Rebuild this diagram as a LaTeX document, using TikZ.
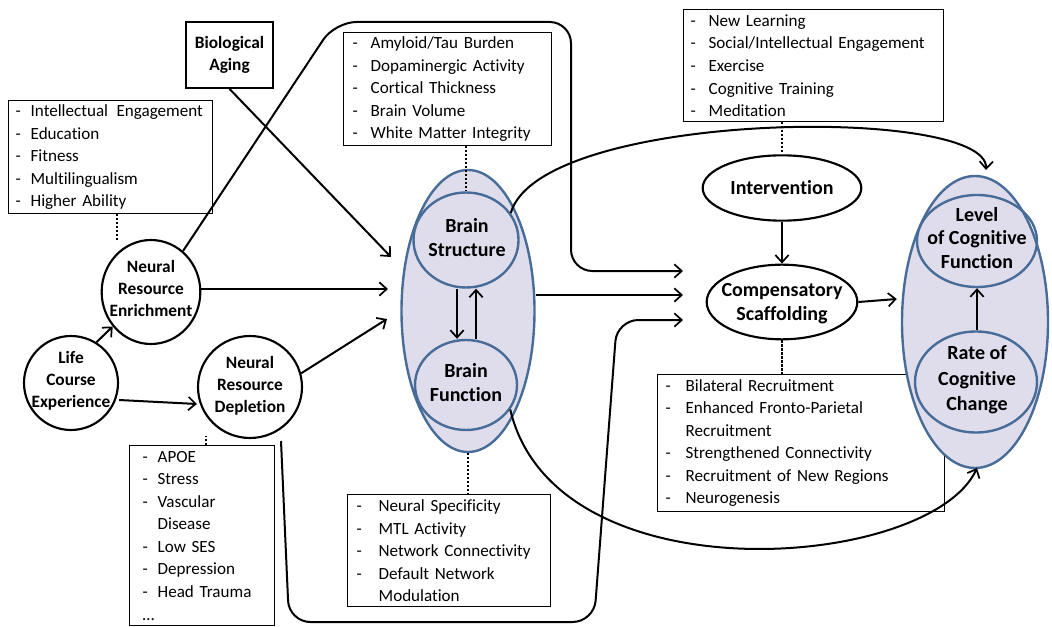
\documentclass[tikz,border=0pt]{standalone}
\usepackage{fontspec}
\setmainfont[Ligatures={NoCommon}]{Carlito}
\usetikzlibrary{arrows.meta,shapes.geometric,calc}
\newcommand\li[2][13.5pt]{\mbox{\makebox[#1][l]{-}#2}}
\newcommand\lc[2][13.5pt]{\mbox{\hspace*{#1}#2}}
\definecolor{ellfill}{RGB}{223,221,236}
\definecolor{elldraw}{RGB}{72,108,152}
\begin{document}
\begin{tikzpicture}[x=0.75pt,y=-0.75pt,
  every node/.style={inner sep=0pt},
  tip/.style={-{Straight Barb[length=5.5pt,width=10pt,line width=1.3pt]}},
  conn/.style={line width=1.5pt,tip},
  dot/.style={line width=1.6pt,dash pattern=on 1.6pt off 1.4pt},
  lbox/.style={draw,line width=1pt,align=left,anchor=north west,
    font=\fontsize{12.8}{16.9}\selectfont},
  circ/.style={ellipse,draw,line width=1.6pt},
  bell/.style={ellipse,draw=elldraw,fill=ellfill,line width=1.8pt},
  sell/.style={ellipse,draw=elldraw,line width=1.8pt},
  lblS/.style={align=center,font=\bfseries\fontsize{13}{16.5}\selectfont},
  lblL/.style={align=center,font=\bfseries\fontsize{15}{18}\selectfont}]
\useasboundingbox (0,0) rectangle (1052,627);

% ---- list boxes
\node[lbox,inner xsep=5.25pt,text width=142.5pt,minimum height=84.75pt] (boxA) at (8,100)
 {\li[11.25pt]{Intellectual\enspace Engagement}\\\li[11.25pt]{Education}\\\li[11.25pt]{Fitness}\\\li[11.25pt]{Multilingualism}\\\li[11.25pt]{Higher Ability}};
\node[lbox,inner xsep=6.75pt,text width=142.5pt,minimum height=84.75pt] (boxM) at (343,32)
 {\li{Amyloid/Tau Burden}\\\li{Dopaminergic Activity}\\\li{Cortical Thickness}\\\li{Brain Volume}\\\li{White Matter Integrity}};
\node[lbox,inner xsep=5.25pt,text width=184.5pt,minimum height=84pt] (boxT) at (683,9)
 {\li{New Learning}\\\li{Social/Intellectual Engagement}\\\li{Exercise}\\\li{Cognitive Training}\\\li{Meditation}};
\node[lbox,inner xsep=6pt,text width=203.25pt,minimum height=102.75pt] (boxR) at (657,374)
 {\li[15pt]{Bilateral Recruitment}\\\li[15pt]{Enhanced Fronto-Parietal}\\\lc[15pt]{Recruitment}\\\li[15pt]{Strengthened Connectivity}\\\li[15pt]{Recruitment of New Regions}\\\li[15pt]{Neurogenesis}};
\node[lbox,inner xsep=6.75pt,text width=138.75pt,minimum height=84pt] (boxB) at (347,494)
 {\li[16.5pt]{Neural Specificity}\\\li[16.5pt]{MTL Activity}\\\li[16.5pt]{Network Connectivity}\\\li[16.5pt]{Default Network}\\\lc[16.5pt]{Modulation}};
\node[lbox,inner xsep=9.75pt,text width=89.25pt,minimum height=135pt] (boxL) at (129,445)
 {\li[11.25pt]{APOE}\\\li[11.25pt]{Stress}\\\li[11.25pt]{Vascular}\\\lc[11.25pt]{Disease}\\\li[11.25pt]{Low SES}\\\li[11.25pt]{Depression}\\\li[11.25pt]{Head Trauma}\\\mbox{\ldots}};

% ---- biological aging
\node[draw,line width=1.3pt,minimum width=65.25pt,minimum height=49.5pt,lblS] (bio) at (229.5,55) {Biological\\Aging};

% ---- left circles
\node[circ,minimum width=70.5pt,minimum height=70.5pt] (life) at (71,383) {};
\node[lblS] (lifeT) at (71,381) {Life\\Course\\Experience};
\node[circ,minimum width=74pt,minimum height=78pt] (enr) at (151,292) {};
\node[lblS] (enrT) at (151,288) {Neural\\Resource\\Enrichment};
\node[circ,minimum width=78pt,minimum height=76.5pt] (dep) at (250,387) {};
\node[lblS] (depT) at (250,386) {Neural\\Resource\\Depletion};

% ---- brain ellipse
\node[bell,minimum width=99.75pt,minimum height=211.5pt] (brain) at (468,311) {};
\node[sell,minimum width=78.75pt,minimum height=71.25pt] (bs) at (466,240) {};
\node[lblL] (bsT) at (467,238) {Brain\\Structure};
\node[sell,minimum width=76.5pt,minimum height=67.5pt] (bf) at (466,385) {};
\node[lblL] (bfT) at (466,383) {Brain\\Function};

% ---- intervention & compensatory
\node[circ,minimum width=119pt,minimum height=49pt,lblL] (int) at (782,188) {Intervention};
\node[circ,minimum width=113pt,minimum height=56pt] (comp) at (782,302) {};
\node[lblL] (compT) at (782,304) {Compensatory\\Scaffolding};

% ---- cognitive ellipse
\node[bell,minimum width=109.5pt,minimum height=219pt] (cog) at (975,322) {};
\node[sell,minimum width=90pt,minimum height=69pt] (lvl) at (977,241) {};
\node[lblL,font=\bfseries\fontsize{15}{17.5}\selectfont] (lvlT) at (977,238) {Level\\of Cognitive\\Function};
\node[sell,minimum width=91.5pt,minimum height=75.75pt] (rate) at (976,382) {};
\node[lblL,font=\bfseries\fontsize{15}{19}\selectfont] (rateT) at (977,380) {Rate of\\Cognitive\\Change};

% ---- free-end coordinates
\coordinate (tE) at (388,289);
\coordinate (tB) at (391,257);
\coordinate (tD) at (387,319);
\coordinate (c1) at (683,271);
\coordinate (c2) at (683,295);
\coordinate (c3) at (683,320);
\coordinate (dStart) at (281,441);
\coordinate (tLvl) at (986,170);
\coordinate (tRate) at (977,468);
\coordinate (dA) at (117,241);
\coordinate (dL) at (206,436);

% ---- connectors
\draw[conn] (life.58) -- (enr.222);
\draw[conn] (life.east |- 0,400) -- (dep.west |- 0,404);
\draw[conn] (enr.east |- tE) -- (tE);
\draw[conn] (dep.15) -- (tD);
\draw[conn] (bio.south) -- (tB);
\draw[conn,rounded corners=16pt] (enr.52) -- (335,22) -- (571,22) -- (571,271) -- (c1);
\draw[conn,rounded corners=16pt] (dStart) -- (289,622) -- (594,622) -- (617,320) -- (c3);
\draw[conn] (brain.east |- c2) -- (c2);
\draw[conn] (int.south) -- (comp.north);
\draw[conn] (comp.east) -- ($(cog.west |- comp.east)+(-4,-3)$);
\draw[conn] (bs.south -| 457,0) -- (bf.north -| 457,0);
\draw[conn] (bf.north -| 476,0) -- (bs.south -| 476,0);
\draw[conn] (rate.north -| 977,0) -- (lvl.south -| 977,0);
\draw[conn] (bs.31) .. controls (540,110) and (988,105) .. (tLvl);
\draw[conn] (bf.-29) .. controls (555,600) and (930,570) .. (tRate);

% ---- dotted links
\draw[dot] (dA |- boxA.south) -- (dA);
\draw[dot] (dL |- boxL.north) -- (dL);
\draw[dot] (bs.north |- boxM.south) -- (bs.north);
\draw[dot] (brain.south) -- (brain.south |- boxB.north);
\draw[dot] (int.north |- boxT.south) -- (int.north);
\draw[dot] (comp.south) -- (comp.south |- boxR.north);
\end{tikzpicture}
\end{document}
